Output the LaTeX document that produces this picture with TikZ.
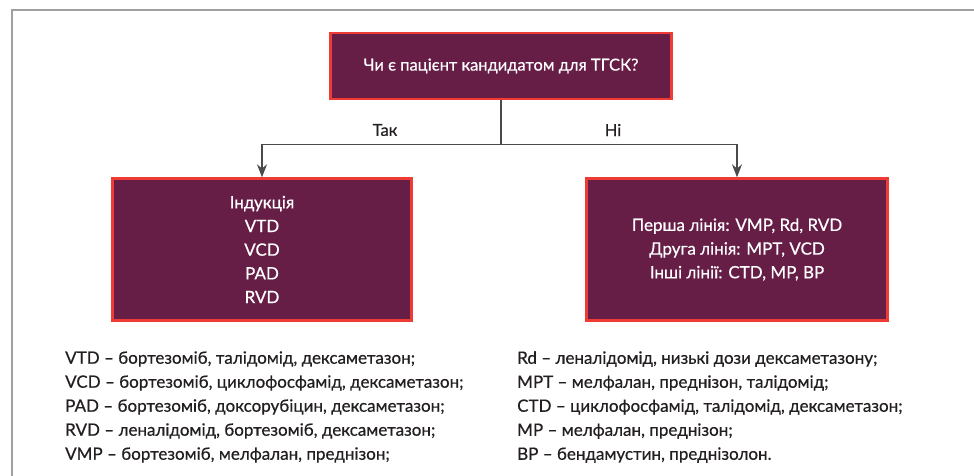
\documentclass[tikz,border=0pt]{standalone}
\usepackage{fontspec}
\setmainfont{Lato}[FakeBold=0.5]
\usetikzlibrary{arrows.meta}
\definecolor{boxfill}{HTML}{661E47}
\definecolor{boxline}{HTML}{EE3B33}
\definecolor{framegray}{HTML}{A0A0A0}
\definecolor{linegray}{HTML}{4A4A4A}
\definecolor{txt}{HTML}{231F20}
\begin{document}
\begin{tikzpicture}[x=1pt,y=-1pt,
  mainbox/.style={draw=boxline,fill=boxfill,line width=2.4pt,text=white,align=center,
    font=\fontsize{17}{23.7}\selectfont,inner sep=0pt},
  conn/.style={draw=linegray,line width=1.4pt},
  arr/.style={conn,-{Stealth[length=13pt,width=10pt]}},
  lbl/.style={text=txt,font=\fontsize{16.5}{18}\selectfont},
  legend/.style={text=txt,align=left,anchor=west,inner sep=0pt,font=\fontsize{17}{24}\selectfont}]
\useasboundingbox (0,0) rectangle (974,476);
\fill[white] (0,0) rectangle (974,476);
\draw[framegray,line width=2pt] (12,476) -- (12,10) -- (974,10);
\node[mainbox,minimum width=341pt,minimum height=66pt,font=\fontsize{16.5}{20}\selectfont] (top) at (501,66) {Чи є пацієнт кандидатом для ТГСК?};
\node[mainbox,minimum width=299pt,minimum height=142pt] (left) at (262,249.5) {Індукція\\VTD\\VCD\\PAD\\RVD};
\node[mainbox,minimum width=301pt,minimum height=142pt] (right) at (737,249.5) {Перша лінія: VMP, Rd, RVD\\Друга лінія: MPT, VCD\\Інші лінії: CTD, MP, BP};
\draw[conn] (top.south) -- ++(0,44) coordinate (split);
\draw[arr] (split) -| (left.north);
\draw[arr] (split) -| (right.north);
\node[lbl] (yes) at (385,130) {Так};
\node[lbl] (no) at (613,130) {Ні};
\node[legend] (legl) at (65,407) {VTD – бортезоміб, талідомід, дексаметазон;\\
VCD – бортезоміб, циклофосфамід, дексаметазон;\\
PAD – бортезоміб, доксорубіцин, дексаметазон;\\
RVD – леналідомід, бортезоміб, дексаметазон;\\
VMP – бортезоміб, мелфалан, преднізон;};
\node[legend] (legr) at (517,407) {Rd – леналідомід, низькі дози дексаметазону;\\
MPT – мелфалан, преднізон, талідомід;\\
CTD – циклофосфамід, талідомід, дексаметазон;\\
MP – мелфалан, преднізон;\\
BP – бендамустин, преднізолон.};
\end{tikzpicture}
\end{document}
